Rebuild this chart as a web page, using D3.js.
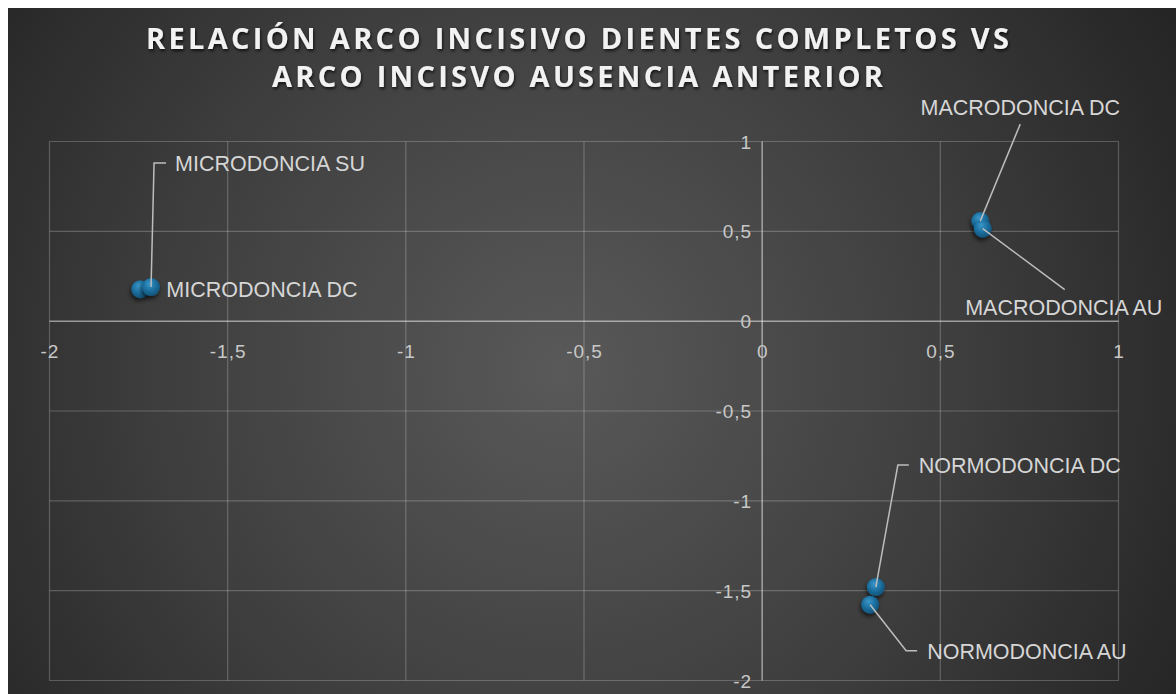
<!DOCTYPE html>
<html>
<head>
<meta charset="utf-8">
<script src="https://cdn.jsdelivr.net/npm/d3@7"></script>
<style>
  html, body { margin: 0; padding: 0; background: #ffffff; }
  svg { display: block; }
</style>
</head>
<body>
<svg id="chart" width="1176" height="694"></svg>
<script>
// ---- data ----
const titleLines = ["RELACIÓN ARCO INCISIVO DIENTES COMPLETOS VS", "ARCO INCISVO AUSENCIA ANTERIOR"];
const pointNames = ["MICRODONCIA DC", "MICRODONCIA SU", "MACRODONCIA DC", "MACRODONCIA AU", "NORMODONCIA DC", "NORMODONCIA AU"];
const xValues = [-1.745, -1.715, 0.612, 0.619, 0.319, 0.303];
const yValues = [0.178, 0.19, 0.557, 0.515, -1.48, -1.578];
const xTicks = [-2, -1.5, -1, -0.5, 0, 0.5, 1];
const yTicks = [-2, -1.5, -1, -0.5, 0, 0.5, 1];

// label placement (pixel offsets from each point) and leader routes
const labelLayout = [
  { anchor: "start",  dx: 26,  dy: 0,     leader: null },
  { anchor: "start",  dx: 24,  dy: -124,  leader: [[15, -124], [3, -124], [0, 0]] },
  { anchor: "middle", dx: 40,  dy: -114,  leader: [[40, -97], [0, 0]] },
  { anchor: "middle", dx: 81,  dy: 79,    leader: [[82, 61], [0, 0]] },
  { anchor: "start",  dx: 43,  dy: -122,  leader: [[33, -122], [22, -122], [0, 0]] },
  { anchor: "start",  dx: 57,  dy: 47,    leader: [[0, 0], [36, 46], [47, 46]] }
];

const W = 1176, H = 694;
const svg = d3.select("#chart");
const defs = svg.append("defs");

// background gradient
const bg = defs.append("radialGradient").attr("id", "bgGrad")
  .attr("gradientUnits", "userSpaceOnUse")
  .attr("cx", 560).attr("cy", 370).attr("r", 720);
bg.append("stop").attr("offset", "0%").attr("stop-color", "#595959");
bg.append("stop").attr("offset", "55%").attr("stop-color", "#3e3e3e");
bg.append("stop").attr("offset", "100%").attr("stop-color", "#242424");

// glossy marker fill
const mg = defs.append("radialGradient").attr("id", "dotGrad")
  .attr("cx", "45%").attr("cy", "40%").attr("r", "60%").attr("fx", "40%").attr("fy", "30%");
mg.append("stop").attr("offset", "0%").attr("stop-color", "#3b97c8");
mg.append("stop").attr("offset", "60%").attr("stop-color", "#1b6e9e");
mg.append("stop").attr("offset", "100%").attr("stop-color", "#135479");

const shadow = defs.append("filter").attr("id", "dotShadow")
  .attr("x", "-60%").attr("y", "-60%").attr("width", "220%").attr("height", "220%");
shadow.append("feDropShadow").attr("dx", -1).attr("dy", 3).attr("stdDeviation", 2)
  .attr("flood-color", "#000").attr("flood-opacity", 0.6);

const tShadow = defs.append("filter").attr("id", "titleShadow")
  .attr("x", "-5%").attr("y", "-30%").attr("width", "110%").attr("height", "160%");
tShadow.append("feDropShadow").attr("dx", 1).attr("dy", 2).attr("stdDeviation", 1.5)
  .attr("flood-color", "#000").attr("flood-opacity", 0.7);

svg.append("rect").attr("x", 8).attr("y", 8).attr("width", W - 8).attr("height", H - 8)
  .attr("fill", "url(#bgGrad)");

// scales
const x = d3.scaleLinear().domain([-2, 1]).range([49.5, 1118.5]);
const y = d3.scaleLinear().domain([-2, 1]).range([680.5, 141.5]);

// gridlines
const grid = svg.append("g");
grid.selectAll(".vg").data(xTicks).join("line")
  .attr("x1", d => x(d)).attr("x2", d => x(d))
  .attr("y1", y(1)).attr("y2", y(-2))
  .attr("stroke", d => d === 0 ? "rgba(255,255,255,0.5)" : "rgba(255,255,255,0.22)")
  .attr("stroke-width", d => d === 0 ? 1.5 : 1.2);
grid.selectAll(".hg").data(yTicks).join("line")
  .attr("y1", d => y(d)).attr("y2", d => y(d))
  .attr("x1", x(-2)).attr("x2", x(1))
  .attr("stroke", d => d === 0 ? "rgba(255,255,255,0.5)" : "rgba(255,255,255,0.22)")
  .attr("stroke-width", d => d === 0 ? 1.5 : 1.2);

// axes through the origin
const fmt = d => String(d).replace(".", ",");
const xAxis = svg.append("g").attr("transform", `translate(0,${y(0)})`)
  .call(d3.axisBottom(x).tickValues(xTicks).tickFormat(fmt).tickSize(0).tickPadding(23));
const yAxis = svg.append("g").attr("transform", `translate(${x(0)},0)`)
  .call(d3.axisLeft(y).tickValues(yTicks).tickFormat(fmt).tickSize(0).tickPadding(10));
[xAxis, yAxis].forEach(a => {
  a.select(".domain").remove();
  a.selectAll("text")
    .attr("fill", "#c8c8c8")
    .style("font-family", "'Liberation Sans', Arial, sans-serif")
    .style("font-size", "19px")
    .style("letter-spacing", "1px");
});
yAxis.selectAll("text").attr("dy", "0.35em");

// points
const pts = pointNames.map((n, i) => ({ name: n, x: xValues[i], y: yValues[i], lay: labelLayout[i] }));
svg.append("g").selectAll("circle").data(pts).join("circle")
  .attr("cx", d => x(d.x)).attr("cy", d => y(d.y)).attr("r", 9)
  .attr("fill", "url(#dotGrad)")
  .attr("filter", "url(#dotShadow)");

// leader lines
svg.append("g").selectAll("polyline").data(pts.filter(d => d.lay.leader)).join("polyline")
  .attr("points", d => d.lay.leader.map(p => [x(d.x) + p[0], y(d.y) + p[1]].join(",")).join(" "))
  .attr("fill", "none").attr("stroke", "#bdbdbd").attr("stroke-width", 1.5);

// data labels
svg.append("g").selectAll("text").data(pts).join("text")
  .attr("x", d => x(d.x) + d.lay.dx).attr("y", d => y(d.y) + d.lay.dy)
  .attr("dy", "0.35em")
  .attr("text-anchor", d => d.lay.anchor)
  .attr("fill", "#d6d6d6")
  .style("font-family", "'Liberation Sans', Arial, sans-serif")
  .style("font-size", "21.5px")
  .text(d => d.name);

// title
const titleWidths = [863, 611];
svg.append("g").selectAll("text").data(titleLines).join("text")
  .attr("x", 577.5).attr("y", (d, i) => 48.5 + i * 38.5)
  .attr("text-anchor", "middle")
  .attr("fill", "#f2f2f2")
  .attr("filter", "url(#titleShadow)")
  .attr("textLength", (d, i) => titleWidths[i])
  .attr("lengthAdjust", "spacing")
  .style("font-family", "'Open Sans', Lato, sans-serif")
  .style("font-weight", "700")
  .style("font-size", "29px")
  .text(d => d);
</script>
</body>
</html>
